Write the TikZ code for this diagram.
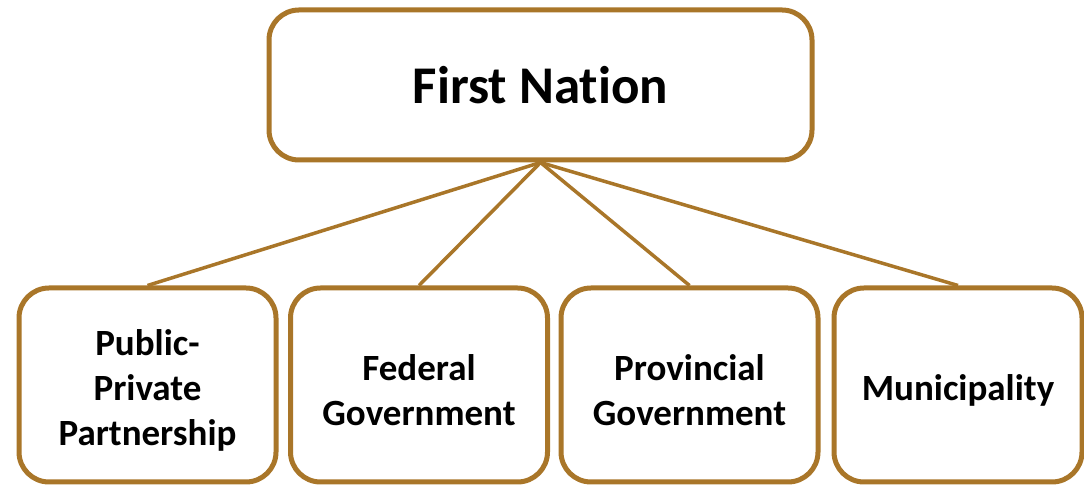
\documentclass[tikz,border=0pt]{standalone}
\usepackage{fontspec}
\setmainfont[Ligatures=NoCommon]{Carlito}
\definecolor{bronze}{RGB}{169,118,41}
\begin{document}
\begin{tikzpicture}[x=1pt,y=1pt,
  topbox/.style={draw=bronze, line width=5pt, rounded corners=30pt, fill=white,
    minimum width=543pt, minimum height=150pt, inner sep=0pt,
    font=\bfseries\fontsize{53}{63}\selectfont},
  unitbox/.style={draw=bronze, line width=5pt, rounded corners=30pt, fill=white,
    minimum width=257pt, minimum height=194pt, inner sep=0pt},
  unittext/.style={align=center, inner sep=0pt, yshift=-5pt,
    font=\bfseries\fontsize{37}{45}\selectfont},
  link/.style={draw=bronze, line width=3.5pt}]
\useasboundingbox (0,0) rectangle (1084,486);
% head node
\node[topbox] (fn) at (540.5,401) {First Nation};
% member boxes
\node[unitbox] (ppp) at (147.5,101) {};
\node[unitbox] (fed) at (419,101) {};
\node[unitbox] (prov) at (689.5,101) {};
\node[unitbox, minimum width=248pt] (mun) at (958,101) {};
% member labels
\node[unittext] (ppplabel) at (ppp.center) {Public-\\Private\\Partnership};
\node[unittext] (fedlabel) at (fed.center) {Federal\\Government};
\node[unittext] (provlabel) at (prov.center) {Provincial\\Government};
\node[unittext] (munlabel) at (mun.center) {Municipality};
% connectors
\draw[link] (fn.south) -- (ppp.north);
\draw[link] (fn.south) -- (fed.north);
\draw[link] (fn.south) -- (prov.north);
\draw[link] (fn.south) -- (mun.north);
\end{tikzpicture}
\end{document}
